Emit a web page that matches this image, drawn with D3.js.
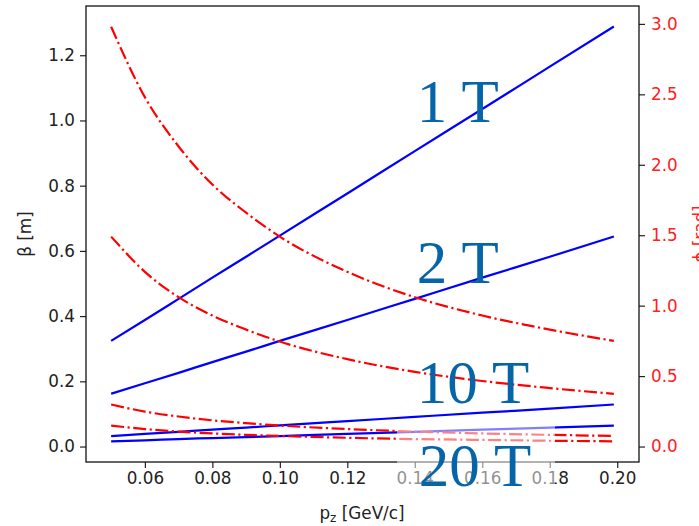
<!DOCTYPE html>
<meta charset="utf-8">
<script src="https://d3js.org/d3.v7.min.js"></script>
<style>
  body { margin: 0; background: #fff; }
  text { font-family: "DejaVu Sans", sans-serif; }
</style>
<div id="my_dataviz"></div>
<script>

// data
var pz = [0.05, 0.06, 0.07, 0.08, 0.09, 0.10, 0.12, 0.14, 0.16, 0.18, 0.199];
var fields = ["1 T", "2 T", "10 T", "20 T"];
var beta = [
  [0.324, 0.388, 0.453, 0.518, 0.582, 0.647, 0.776, 0.906, 1.035, 1.165, 1.288],
  [0.162, 0.194, 0.226, 0.259, 0.291, 0.324, 0.388, 0.453, 0.518, 0.582, 0.644],
  [0.032, 0.039, 0.045, 0.052, 0.058, 0.065, 0.078, 0.091, 0.104, 0.116, 0.129],
  [0.016, 0.019, 0.023, 0.026, 0.029, 0.032, 0.039, 0.045, 0.052, 0.058, 0.064]
];
var phi = [
  [2.98, 2.48, 2.13, 1.86, 1.66, 1.49, 1.24, 1.06, 0.93, 0.83, 0.75],
  [1.49, 1.24, 1.06, 0.93, 0.83, 0.745, 0.62, 0.53, 0.465, 0.415, 0.374],
  [0.298, 0.248, 0.213, 0.186, 0.166, 0.149, 0.124, 0.106, 0.093, 0.083, 0.075],
  [0.149, 0.124, 0.106, 0.093, 0.083, 0.075, 0.062, 0.053, 0.047, 0.041, 0.037]
];
var xTicks = [0.06, 0.08, 0.10, 0.12, 0.14, 0.16, 0.18, 0.20];
var betaTicks = [0.0, 0.2, 0.4, 0.6, 0.8, 1.0, 1.2];
var phiTicks = [0.0, 0.5, 1.0, 1.5, 2.0, 2.5, 3.0];
// where each field label sits (x in pz, y in beta)
var labelPos = [[0.1406, 0.994], [0.1406, 0.502], [0.1406, 0.134], [0.1412, -0.121]];

var W = 699, H = 526;
var mLeft = 86, mRight = 639, mTop = 6, mBottom = 462;

var svg = d3.select("#my_dataviz")
  .append("svg")
    .attr("width", W)
    .attr("height", H);

var x = d3.scaleLinear().domain([0.04255, 0.20645]).range([mLeft, mRight]);
var yL = d3.scaleLinear().domain([-0.0474, 1.351]).range([mBottom, mTop]);
var yR = d3.scaleLinear().domain([-0.1098, 3.127]).range([mBottom, mTop]);

// axes
var fs = 16.8;
var gx = svg.append("g")
  .attr("transform", "translate(0," + mBottom + ")")
  .call(d3.axisBottom(x).tickValues(xTicks).tickFormat(d3.format(".2f")).tickSize(6).tickPadding(4));
var gl = svg.append("g")
  .attr("transform", "translate(" + mLeft + ",0)")
  .call(d3.axisLeft(yL).tickValues(betaTicks).tickFormat(d3.format(".1f")).tickSize(6).tickPadding(5));
var gr = svg.append("g")
  .attr("transform", "translate(" + mRight + ",0)")
  .call(d3.axisRight(yR).tickValues(phiTicks).tickFormat(d3.format(".1f")).tickSize(6).tickPadding(6));

[gx, gl, gr].forEach(function(g) {
  g.select(".domain").remove();
  g.selectAll("text").style("font-size", fs + "px").attr("fill", "#222");
  g.selectAll("line").attr("stroke", "#222").attr("stroke-width", 1.2);
});
gr.selectAll("text").attr("fill", "#ff2020");

// lines
var line = function(yscale) {
  return d3.line()
    .x(function(d, i) { return x(pz[i]); })
    .y(function(d) { return yscale(d); })
    .curve(d3.curveMonotoneX);
};

svg.selectAll(".beta")
  .data(beta)
  .enter()
  .append("path")
    .attr("class", "beta")
    .attr("d", line(yL))
    .attr("fill", "none")
    .attr("stroke", "#0000ff")
    .attr("stroke-width", 2.2);

svg.selectAll(".phi")
  .data(phi)
  .enter()
  .append("path")
    .attr("class", "phi")
    .attr("d", line(yR))
    .attr("fill", "none")
    .attr("stroke", "#ff0000")
    .attr("stroke-width", 2.2)
    .attr("stroke-dasharray", "13,3.5,2.2,3.5");

// frame
svg.append("rect")
  .attr("x", mLeft)
  .attr("y", mTop)
  .attr("width", mRight - mLeft)
  .attr("height", mBottom - mTop)
  .attr("fill", "none")
  .attr("stroke", "#111")
  .attr("stroke-width", 1.3);

// axis titles
svg.append("text")
  .attr("transform", "translate(31," + 234 + ")rotate(-90)")
  .attr("text-anchor", "middle")
  .style("font-size", fs + "px")
  .attr("fill", "#222")
  .text("β [m]");

svg.append("text")
  .attr("transform", "translate(706," + 234 + ")rotate(-90)")
  .attr("text-anchor", "middle")
  .style("font-size", fs + "px")
  .attr("fill", "#ff2020")
  .text("ϕ [rad]");

var xl = svg.append("text")
  .attr("x", 362)
  .attr("y", 519)
  .attr("text-anchor", "middle")
  .style("font-size", fs + "px")
  .attr("fill", "#222");
xl.append("tspan").text("p");
xl.append("tspan").attr("dy", 3).style("font-size", "12px").text("z");
xl.append("tspan").attr("dy", -3).text(" [GeV/c]");

// field labels
svg.selectAll(".lab")
  .data(fields.slice(0, 3))
  .enter()
  .append("text")
    .attr("class", "lab")
    .attr("x", function(d, i) { return x(labelPos[i][0]); })
    .attr("y", function(d, i) { return yL(labelPos[i][1]); })
    .style("font-family", "'Liberation Serif', serif")
    .style("font-size", "61px")
    .attr("fill", "#0565a8")
    .text(function(d) { return d; });

// the last label has a half white box over everything
svg.append("rect")
  .attr("x", 397)
  .attr("y", 424)
  .attr("width", 158)
  .attr("height", 76)
  .attr("fill", "#fff")
  .attr("fill-opacity", 0.5);

svg.append("text")
  .attr("x", x(labelPos[3][0]))
  .attr("y", yL(labelPos[3][1]))
  .style("font-family", "'Liberation Serif', serif")
  .style("font-size", "61px")
  .attr("fill", "#0565a8")
  .text(fields[3]);

</script>
